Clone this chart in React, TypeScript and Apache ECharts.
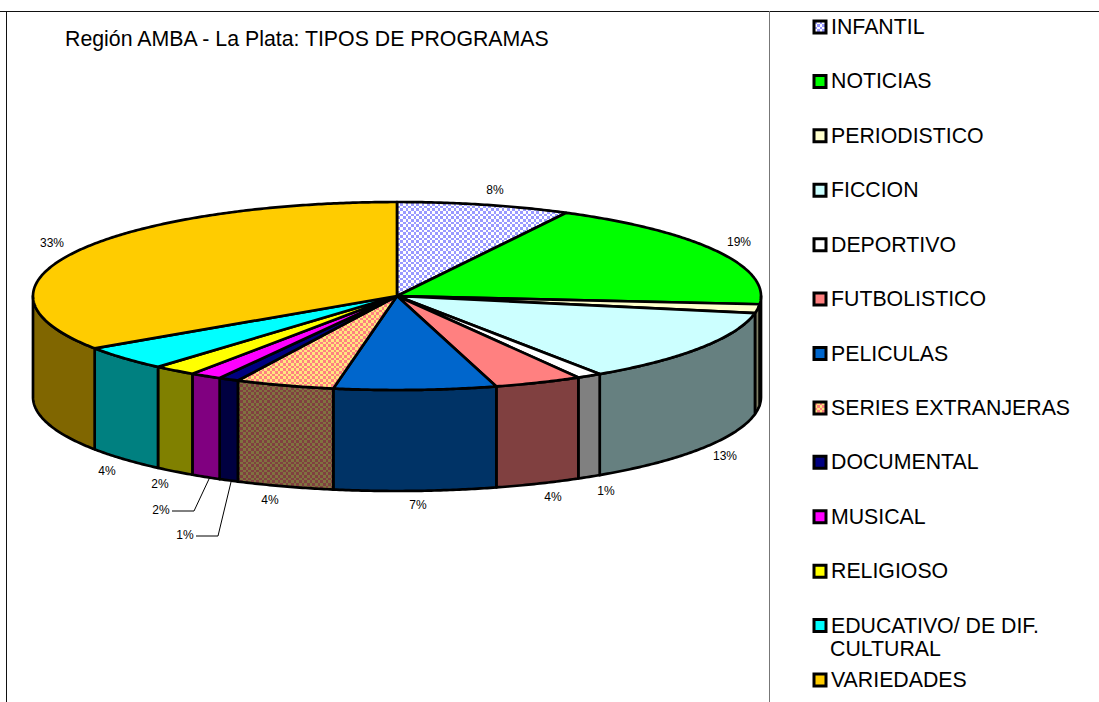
import React, { useEffect, useRef } from "react";
import * as echarts from "echarts";

const categories = [
  "INFANTIL", "NOTICIAS", "PERIODISTICO", "FICCION", "DEPORTIVO", "FUTBOLISTICO", "PELICULAS",
  "SERIES EXTRANJERAS", "DOCUMENTAL", "MUSICAL", "RELIGIOSO", "EDUCATIVO/ DE DIF. CULTURAL", "VARIEDADES",
];
const values = [7.7, 18.7, 1.5, 12.7, 1.1, 3.9, 7.2, 4.4, 0.9, 1.4, 1.9, 4.2, 34.4];
// Percent labels as printed (null: the slice has no label)
const percentLabels = ["8%", "19%", null, "13%", "1%", "4%", "7%", "4%", "1%", "2%", "2%", "4%", "33%"];
const titleText = "Región AMBA - La Plata: TIPOS DE PROGRAMAS";

const FONT = "'Liberation Sans', Arial, sans-serif";
const CX = 397, CY = 296, RX = 364, RY = 94, DEPTH = 101;

function checker(a: string, b: string) {
  const steps = [3, 3, 2, 3, 3, 2];
  const c = document.createElement("canvas");
  c.width = 16; c.height = 16;
  const g = c.getContext("2d")!;
  g.fillStyle = a; g.fillRect(0, 0, 16, 16);
  g.fillStyle = b;
  let y = 0;
  steps.forEach((h, r) => {
    let x = 0;
    steps.forEach((w, k) => {
      if ((r + k) % 2 === 0) g.fillRect(x, y, w, h);
      x += w;
    });
    y += h;
  });
  return { type: "pattern", image: c, repeat: "repeat" } as any;
}

const LABEL_POS: ([number, number] | null)[] = [
  [495, 190], [739, 242], null, [725, 456], [606, 491], [553, 497], [418, 505],
  [270, 500], [185, 535], [161, 510], [160, 484], [107, 471], [52, 243],
];
const LEADERS: Record<number, number[][]> = {
  8: [[231, 482], [218, 536], [196, 536]],
  9: [[209, 479], [194, 511], [172, 511]],
};

function pt(f: number, dy = 0) {
  const t = f * 2 * Math.PI;
  return [CX + RX * Math.sin(t), CY - RY * Math.cos(t) + dy];
}
function arc(a: number, b: number, dy = 0) {
  const n = Math.max(2, Math.ceil((b - a) * 720));
  const out: number[][] = [];
  for (let k = 0; k <= n; k++) out.push(pt(a + ((b - a) * k) / n, dy));
  return out;
}

export default function App() {
  const ref = useRef<HTMLDivElement>(null);
  useEffect(() => {
    const chart = echarts.init(ref.current!, undefined, { renderer: "svg" });
    const topFills: any[] = [
      checker("#FFFFFF", "#9999FF"), "#00FF00", "#FFFFCC", "#CCFFFF", "#FFFFFF", "#FF8080", "#0066CC",
      checker("#FFE680", "#FF8080"), "#000080", "#FF00FF", "#FFFF00", "#00FFFF", "#FFCC00",
    ];
    const wallFills: any[] = [
      checker("#808080", "#4D4D80"), "#008000", "#808066", "#668080", "#808080", "#804040", "#003366",
      checker("#807340", "#804040"), "#000040", "#800080", "#808000", "#008080", "#806600",
    ];
    let acc = 0;
    const total = values.reduce((a, b) => a + b, 0);
    const ranges = values.map((v) => {
      const s = acc / total;
      acc += v;
      return [s, acc / total];
    });

    const series = categories.map((name, i) => ({
      type: "custom",
      name,
      coordinateSystem: "none",
      silent: true,
      itemStyle: { color: topFills[i], borderColor: "#000", borderWidth: 3 },
      data: [ranges[i]],
      renderItem: (_: any, api: any) => {
        const a = api.value(0) as number;
        const b = api.value(1) as number;
        const children: any[] = [];
        const stroke = { stroke: "#000", lineWidth: 2.7, lineJoin: "round" };
        const fa = Math.max(a, 0.25), fb = Math.min(b, 0.75);
        if (fb > fa) {
          const points = [...arc(fa, fb), ...arc(fa, fb, DEPTH).reverse()];
          children.push({ type: "polygon", shape: { points }, style: { fill: wallFills[i], ...stroke } });
        }
        const points = [[CX, CY], ...arc(a, b)];
        children.push({ type: "polygon", shape: { points }, style: { fill: topFills[i], ...stroke } });
        const lp = LABEL_POS[i], txt = percentLabels[i];
        if (lp && txt) {
          children.push({ type: "text", x: lp[0], y: lp[1], style: { text: txt, fill: "#000", font: `12px ${FONT}`, align: "center", verticalAlign: "middle" } });
        }
        if (LEADERS[i]) {
          children.push({ type: "polyline", shape: { points: LEADERS[i] }, style: { stroke: "#000", lineWidth: 1, fill: "none" } });
        }
        return { type: "group", children };
      },
    }));

    chart.setOption({
      animation: false,
      backgroundColor: "#fff",
      title: {
        text: titleText, left: 65, top: 28, padding: 0,
        textStyle: { fontFamily: FONT, fontSize: 21.3, fontWeight: "normal", color: "#000", lineHeight: 22 },
      },
      legend: {
        orient: "vertical", left: 812.5, top: 15, padding: 0,
        itemWidth: 12, itemHeight: 12, itemGap: 30.42, selectedMode: false,
        formatter: (n: string) => n.replace(" CULTURAL", ""),
        textStyle: { fontFamily: FONT, fontSize: 21.3, color: "#000", lineHeight: 24, padding: 0 },
        data: categories.map((name, i) => ({
          name, icon: "rect",
          itemStyle: { color: topFills[i], borderColor: "#000", borderWidth: 3 },
        })),
      },
      graphic: [
        { type: "line", silent: true, shape: { x1: 0, y1: 11.5, x2: 1099, y2: 11.5 }, style: { stroke: "#111", lineWidth: 1 } },
        { type: "line", silent: true, shape: { x1: 6.5, y1: 11, x2: 6.5, y2: 702 }, style: { stroke: "#111", lineWidth: 1 } },
        { type: "line", silent: true, shape: { x1: 769.5, y1: 11, x2: 769.5, y2: 702 }, style: { stroke: "#777", lineWidth: 1 } },
        { type: "text", silent: true, x: 830, y: 649, style: { text: "CULTURAL", fill: "#000", font: `21.3px ${FONT}`, verticalAlign: "middle" } },
      ],
      series,
    });
    return () => chart.dispose();
  }, []);
  return <div ref={ref} style={{ position: "absolute", left: 0, top: 0, width: 1099, height: 702 }} />;
}
